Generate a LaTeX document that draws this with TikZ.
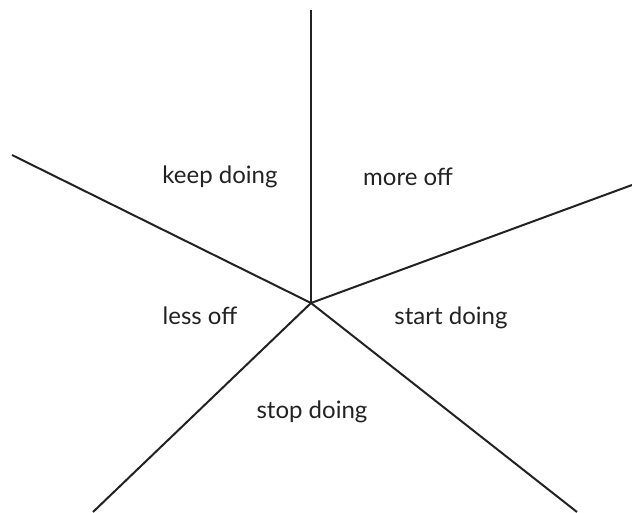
\documentclass[tikz,border=0pt]{standalone}
\usepackage{fontspec}
\setmainfont{Lato}
\usepackage{tikz}
\usetikzlibrary{positioning}
\definecolor{InkGrey}{RGB}{34,34,34}
\tikzset{
  spoke/.style={line width=1.5pt,draw=InkGrey},
  sector/.style={text=InkGrey,font=\fontsize{18}{20}\selectfont}
}
\begin{document}
\begin{tikzpicture}[x=0.75pt,y=-0.75pt]
\useasboundingbox (0,0) rectangle (632,512);
\coordinate (hub) at (311,303);
\coordinate (top) at (311,10);
\coordinate (right) at (632,185);
\coordinate (left) at (12,155);
\coordinate (botleft) at (93,512);
\coordinate (botright) at (577,512);
\draw[spoke] (hub)--(top);
\draw[spoke] (hub)--(right);
\draw[spoke] (hub)--(left);
\draw[spoke] (hub)--(botleft);
\draw[spoke] (hub)--(botright);
\node[sector] (keep) at (220,177) {keep doing};
\node[sector] (more) at (408,177) {more off};
\node[sector] (less) at (200,316) {less off};
\node[sector] (start) at (451,318) {start doing};
\node[sector] (stop) at (312,412) {stop doing};
\end{tikzpicture}
\end{document}
